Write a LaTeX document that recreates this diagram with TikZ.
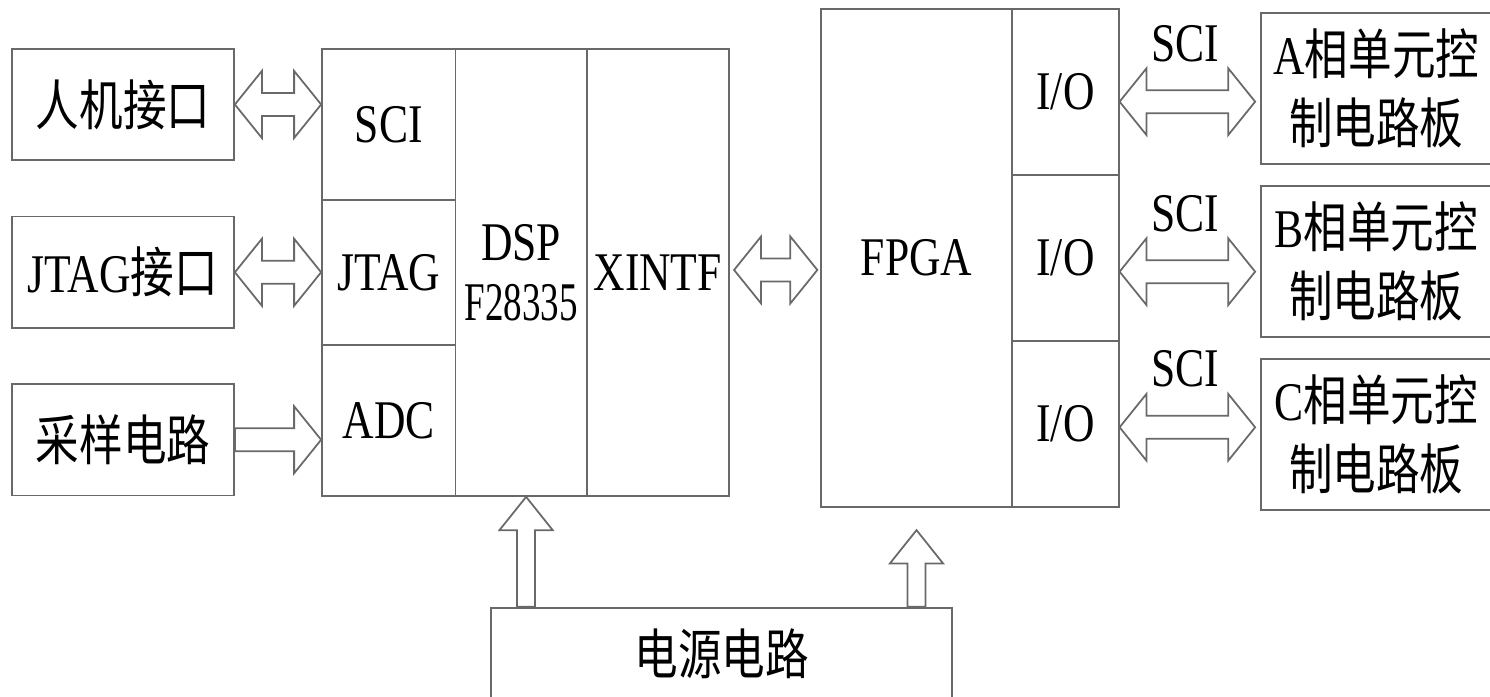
\documentclass[tikz,border=0pt]{standalone}
\usepackage{fontspec}
\setmainfont{Liberation Serif}[FakeStretch=0.8]
\newfontfamily\narrowrm{Liberation Serif}[FakeStretch=0.68]
\newfontfamily\cjk{Noto Sans CJK SC}[FakeStretch=0.8]
\usepackage{tikz}
\usetikzlibrary{positioning, calc}
\definecolor{linegray}{RGB}{105, 105, 105}
\newcommand{\zh}[1]{{\cjk #1}}

% hollow block arrows (horizontal ones keep the y of the first point)
\newcommand{\dblarrow}[2]{%
  \draw[fat] let \p1=#1, \p2=#2 in
    (\x1,\y1) -- (\x1+0.27cm,\y1+0.335cm) -- (\x1+0.27cm,\y1+0.115cm)
    -- (\x2-0.27cm,\y1+0.115cm) -- (\x2-0.27cm,\y1+0.335cm) -- (\x2,\y1)
    -- (\x2-0.27cm,\y1-0.335cm) -- (\x2-0.27cm,\y1-0.115cm)
    -- (\x1+0.27cm,\y1-0.115cm) -- (\x1+0.27cm,\y1-0.335cm) -- cycle;}
\newcommand{\onearrow}[2]{%
  \draw[fat] let \p1=#1, \p2=#2 in
    (\x1,\y1+0.115cm) -- (\x2-0.27cm,\y1+0.115cm) -- (\x2-0.27cm,\y1+0.335cm)
    -- (\x2,\y1) -- (\x2-0.27cm,\y1-0.335cm) -- (\x2-0.27cm,\y1-0.115cm)
    -- (\x1,\y1-0.115cm) -- cycle;}
\newcommand{\powarrow}[2]{%
  \draw[fat] let \p1=#1, \p2=#2 in
    (\x1-0.09cm,\y1) -- (\x1-0.09cm,\y2-0.334cm) -- (\x1-0.267cm,\y2-0.334cm)
    -- (\x1,\y2) -- (\x1+0.267cm,\y2-0.334cm) -- (\x1+0.09cm,\y2-0.334cm)
    -- (\x1+0.09cm,\y1) -- cycle;}

\begin{document}
\begin{tikzpicture}[
    block/.style={draw=linegray, line width=0.5pt, inner sep=0pt, align=center,
                  font=\fontsize{15.5pt}{19.6pt}\selectfont},
    cell/.style={block, minimum width=1.335cm},
    board/.style={block, minimum width=2.313cm},
    label/.style={inner sep=0pt, font=\fontsize{15.5pt}{19.6pt}\selectfont},
    fat/.style={draw=linegray, line width=0.5pt, fill=white, line join=miter}
]
    \path[use as bounding box, fill=white] (0,0) rectangle (14.9,6.97);

    % Peripheral circuits
    \node[block, minimum width=2.22cm, minimum height=1.115cm] (hmi) at (1.23,5.925) {\zh{人机接口}};
    \node[block, minimum width=2.22cm, minimum height=1.115cm] (jtagif) at (1.23,4.247) {JTAG\zh{接口}};
    \node[block, minimum width=2.22cm, minimum height=1.115cm] (sample) at (1.23,2.572) {\zh{采样电路}};

    % DSP
    \node[cell, minimum height=1.51cm] (sci) at (3.8875,5.725) {SCI};
    \node[cell, minimum height=1.45cm] (jtag) at (3.8875,4.245) {JTAG};
    \node[cell, minimum height=1.51cm] (adc) at (3.8875,2.765) {ADC};
    \node[block, minimum width=1.312cm, minimum height=4.47cm,
          font=\fontsize{15.5pt}{17pt}\selectfont] (dsp) at (5.211,4.245) {DSP\\{\narrowrm F28335}};
    \node[block, minimum width=1.42cm, minimum height=4.47cm] (xintf) at (6.577,4.245) {XINTF};

    % FPGA
    \node[block, minimum width=1.916cm, minimum height=4.977cm] (fpga) at (9.165,4.3885) {FPGA};
    \node[block, minimum width=1.064cm, minimum height=1.659cm] (io1) at (10.655,6.0475) {I/O};
    \node[block, minimum width=1.064cm, minimum height=1.659cm] (io2) at (10.655,4.3885) {I/O};
    \node[block, minimum width=1.064cm, minimum height=1.659cm] (io3) at (10.655,2.7295) {I/O};

    % Phase unit boards
    \node[board, minimum height=1.513cm] (pha) at (13.7635,6.0865) {A\zh{相单元控}\\\zh{制电路板}};
    \node[board, minimum height=1.516cm] (phb) at (13.7635,4.355) {B\zh{相单元控}\\\zh{制电路板}};
    \node[board, minimum height=1.51cm] (phc) at (13.7635,2.625) {C\zh{相单元控}\\\zh{制电路板}};

    % Power supply
    \node[block, minimum width=4.613cm, minimum height=0.923cm] (power) at (7.2165,0.4315) {\zh{电源电路}};

    % Links
    \dblarrow{(hmi.east)}{(sci.west)}
    \dblarrow{(jtagif.east)}{(jtag.west)}
    \onearrow{(sample.east)}{(adc.west)}
    \dblarrow{($(xintf.east)+(0.045,0.025)$)}{($(fpga.west)-(0.025,0)$)}

    \dblarrow{($(io1.east)+(0,-0.0945)$)}{($(pha.west)-(0.047,0)$)}
    \dblarrow{($(io2.east)+(0,-0.1355)$)}{($(phb.west)-(0.047,0)$)}
    \dblarrow{($(io3.east)+(0,-0.0325)$)}{($(phc.west)-(0.047,0)$)}
    \node[label] (scia) at (11.85,6.53) {SCI};
    \node[label] (scib) at (11.85,4.83) {SCI};
    \node[label] (scic) at (11.85,3.28) {SCI};

    \powarrow{($(dsp.south |- power.north)+(0.05,0)$)}{(dsp.south)}
    \powarrow{(fpga.south |- power.north)}{($(fpga.south)-(0,0.223)$)}
\end{tikzpicture}
\end{document}
